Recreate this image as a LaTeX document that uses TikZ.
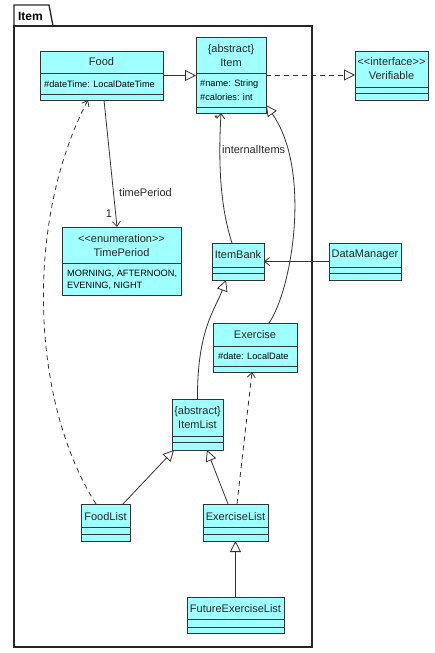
\documentclass[tikz,border=0pt]{standalone}
\usepackage{fontspec}
\setmainfont{Liberation Sans}
\usetikzlibrary{arrows.meta,calc}
\definecolor{clsfill}{HTML}{A0FFFF}
\definecolor{clsline}{HTML}{333333}
\tikzset{
  cls/.style={draw=clsline, fill=clsfill, line width=0.9pt, inner sep=0pt, outer sep=0pt, anchor=north west},
  sepline/.style={draw=clsline, line width=0.9pt},
  nm/.style={inner sep=0pt, font=\fontsize{11}{13}\selectfont, text=black!85},
  attr/.style={inner sep=0pt, anchor=west, font=\fontsize{9.2}{11}\selectfont, text=black},
  lbl/.style={inner sep=0pt, font=\fontsize{11}{13}\selectfont, text=black!85},
  conn/.style={draw=clsline, line width=0.8pt},
  assoc/.style={conn, -{Straight Barb[length=5pt,width=8pt,line width=0.8pt]}},
  gen/.style={conn, -{Triangle[open,length=11pt,width=11pt,fill=white,line width=0.8pt]}},
  real/.style={gen, dash pattern=on 5pt off 4pt},
  dep/.style={assoc, dash pattern=on 5pt off 4pt},
}
\newcommand\umlcls[7]{%
  \node[cls, minimum width={(#4-#2)*1pt}, minimum height={(#5-#3)*1pt}] (#1) at (#2,#3) {};
  \draw[sepline] (#2,#6) -- (#4,#6) (#2,#7) -- (#4,#7);
}
\begin{document}
\begin{tikzpicture}[x=1pt,y=-1pt]
\useasboundingbox (0,0) rectangle (434,653);
% package
\draw[line width=1.3pt, draw=black!85] (14,26) -- (14,5) -- (49,5) -- (53,26);
\draw[line width=1.3pt, draw=black!85] (14,26) rectangle (312,647);
\node[inner sep=0pt, font=\fontsize{12}{14}\selectfont\bfseries] (pkgtitle) at (30.5,16) {Item};
% classes
\umlcls{food}{40}{51}{163}{100}{73}{94}
\umlcls{item}{196}{37}{266}{113}{73}{107}
\umlcls{verif}{355}{51}{428}{100}{87}{93}
\umlcls{tp}{62}{227}{181}{295}{263}{295}
\umlcls{ib}{212}{243}{264}{280}{267}{273}
\umlcls{dm}{329}{243}{401}{280}{267}{273}
\umlcls{ex}{213}{323}{297}{372}{346}{366}
\umlcls{il}{172}{399}{223}{450}{436}{442}
\umlcls{fl}{81}{504}{130}{541}{527}{534}
\umlcls{el}{203}{504}{268}{541}{527}{534}
\umlcls{fel}{187}{597}{284}{633}{619}{627}
% texts
\node[nm] (foodN) at (101.5,62) {Food};
\node[attr] (foodA) at (44,84) {\#dateTime: LocalDateTime};
\node[nm] (itemS) at (231,50) {\{abstract\}};
\node[nm] (itemN) at (231,63) {Item};
\node[attr] (itemA1) at (200,84) {\#name: String};
\node[attr] (itemA2) at (200,97) {\#calories: int};
\node[nm] (verifS) at (391.5,62) {<{}<interface>{}>};
\node[nm] (verifN) at (391.5,76) {Verifiable};
\node[nm] (tpS) at (121.5,239) {<{}<enumeration>{}>};
\node[nm] (tpN) at (121.5,253) {TimePeriod};
\node[attr] (tpA1) at (67,274) {MORNING, AFTERNOON,};
\node[attr] (tpA2) at (67,286) {EVENING, NIGHT};
\node[nm] (ibN) at (238,255) {ItemBank};
\node[nm] (dmN) at (365,255) {DataManager};
\node[nm] (exN) at (255,335) {Exercise};
\node[attr] (exA) at (218,356) {\#date: LocalDate};
\node[nm] (ilS) at (197.5,412) {\{abstract\}};
\node[nm] (ilN) at (197.5,425) {ItemList};
\node[nm] (flN) at (105.5,517) {FoodList};
\node[nm] (elN) at (235.5,517) {ExerciseList};
\node[nm] (felN) at (235.5,609) {FutureExerciseList};
% connectors
\draw[gen] (food.east) -- (food.east -| item.west);
\draw[real] (item.east) -- (item.east -| verif.west);
\draw[assoc] ([xshift=64pt]food.south west) -- ([xshift=55pt]tp.north west);
\node[lbl, anchor=west] (tpLbl) at (119,193) {timePeriod};
\node[lbl] (tpMul) at (109,214) {1};
\draw[assoc] ([xshift=20pt]ib.north west) .. controls (218,200) and (219,150) .. ([xshift=25pt]item.south west);
\node[lbl, anchor=west] (iiLbl) at (222,150) {internalItems};
\node[inner sep=0pt, font=\fontsize{9}{10}\selectfont] (iiMul) at (216,118) {*};
\draw[gen] ([xshift=56pt]ex.north west) .. controls (292,290) and (312,170) .. ([yshift=8pt]item.south east);
\draw[gen] (il.north) .. controls (197,330) and (215,310) .. ([xshift=14pt]ib.south west);
\draw[gen] ([xshift=42pt]fl.north west) -- ([xshift=2pt]il.south west);
\draw[gen] ([xshift=25pt]el.north west) -- ([xshift=35pt]il.south west);
\draw[gen] (fel.north) -- (fel.north |- el.south);
\draw[dep] ([xshift=34pt]el.north west) -- ([xshift=39pt]ex.south west);
\draw[dep] ([xshift=15pt]fl.north west) .. controls (30,400) and (25,220) .. ([xshift=48pt]food.south west);
\draw[assoc] (dm.west |- ib.east) -- (ib.east);
\end{tikzpicture}
\end{document}
